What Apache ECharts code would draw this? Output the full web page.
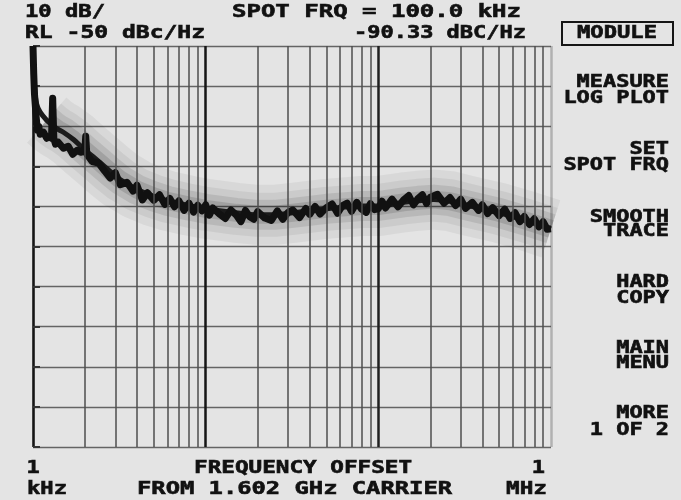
<!DOCTYPE html>
<html><head><meta charset="utf-8">
<script src="https://cdn.jsdelivr.net/npm/echarts@6/dist/echarts.min.js"></script>
<style>html,body{margin:0;padding:0;background:#e4e4e4}#c{width:681px;height:500px}</style>
</head><body><div id="c"></div>
<script>
// ---- data (frequency offset in kHz, phase noise in dBc/Hz) ----
const traceFreqKHz = [
  1.0,1.01,1.02,1.04,1.06,1.08,1.1,1.15,1.2,1.25,
  1.28,1.3,1.32,1.35,1.4,1.5,1.6,1.7,1.8,1.9,
  2.0,2.02,2.05,2.1,2.2,2.4,2.6,2.8,3.0,3.2,
  3.5,3.8,4.0,4.3,4.6,5.0,5.4,5.8,6.2,6.6,
  7.0,7.5,8.0,8.5,9.0,9.5,
  10,10.5,11,12,13,14,15,16,17,18,
  19,20,22,24,26,28,30,32,35,38,
  40,43,46,50,54,58,62,66,70,75,
  80,85,90,95,
  100,105,110,120,130,140,150,160,170,180,
  190,200,220,240,260,280,300,320,350,380,
  400,430,460,500,540,580,620,660,700,750,
  800,850,900,950,1000
];
const traceDb = [
  -50,-57,-62,-67,-71,-70,-72,-71.5,-73,-72.5,
  -73,-63,-73,-74.5,-74,-75.5,-75,-77,-76,-76.5,
  -75.5,-72.5,-77,-77,-78.8,-79.2,-81.2,-82.9,-81.6,-84.6,
  -84.0,-86.2,-84.7,-88.4,-86.6,-88.5,-87.1,-89.5,-88.0,-90.1,
  -88.6,-91.0,-89.2,-91.4,-89.7,-91.1,
  -89.6,-92.2,-90.4,-91.9,-93.0,-90.9,-92.1,-93.8,-91.0,-92.6,
  -93.2,-91.3,-92.9,-93.5,-91.1,-93.2,-91.5,-90.9,-92.8,-90.5,
  -92.0,-90.0,-91.9,-90.3,-89.4,-91.7,-89.8,-89.2,-91.2,-89.0,
  -90.7,-91.5,-89.3,-90.8,
  -90.6,-88.7,-90.4,-88.2,-90.1,-88.4,-87.3,-89.6,-88.0,-87.1,
  -89.3,-87.7,-87.0,-89.2,-87.8,-89.8,-88.2,-90.5,-89.0,-91.0,
  -89.6,-91.8,-90.3,-92.3,-90.7,-93.0,-91.6,-93.8,-92.5,-94.5,
  -93.1,-95.1,-93.8,-95.7,-95.6
];
const smoothFreqKHz = [1.0,1.02,1.05,1.1,1.2,1.3,1.4,1.5,1.7,2.0,2.4,2.8,3.2,4.0,5.0,6.0,8.0,10,15,20,25,32,50,80,100,140,170,210,260,330,500,720,1000];
const smoothDb      = [-50,-60,-64.5,-66.5,-68.5,-69.8,-70.8,-71.5,-73.2,-75.9,-78.8,-81.3,-83.3,-85.8,-87.5,-88.6,-89.8,-90.6,-91.6,-92.1,-92.1,-91.6,-90.6,-89.9,-89.9,-89.0,-88.6,-88.3,-88.7,-89.8,-91.6,-93.6,-95.6];
const gridFreqKHz = [2,3,4,5,6,7,8,9,20,30,40,50,60,70,80,90,200,300,400,500,600,700,800,900];
const xTickLabels = [['1','kHz'],['1','MHz']];
const xAxisTitle = ['FREQUENCY OFFSET','FROM 1.602 GHz CARRIER'];
const headerLines = ['10 dB/','RL -50 dBc/Hz','SPOT FRQ = 100.0 kHz','-90.33 dBC/Hz'];
const menuItems = [['MEASURE','LOG PLOT'],['SET','SPOT FRQ'],['SMOOTH','TRACE'],['HARD','COPY'],['MAIN','MENU'],['MORE','1 OF 2']];
const yMin = -150, yMax = -50, yStep = 10;

const tracePairs = traceFreqKHz.map((f,i)=>[f*1000, traceDb[i]]);
const smoothPairs = smoothFreqKHz.map((f,i)=>[f*1000, smoothDb[i]]);
const haloPairs = smoothPairs.slice(4);

const FS = 17, ADV = 0.602*FS;
function txt(s, x, y, align, w){
  const sx = w ? w/(s.length*ADV) : 13.2/ADV;
  return {type:'text', x:x, y:y, scaleX:sx, z:100, silent:true,
    style:{text:s, font:'bold '+FS+'px "DejaVu Sans Mono"', fill:'#111', align:align, verticalAlign:'middle',
      stroke:'#111', lineWidth:0.6}};
}
const menuY = [[83,99],[150,166],[218,232],[283,299],[349,364],[414,431]];
const graphics = [
  txt(headerLines[0], 25, 13, 'left', 80),
  txt(headerLines[1], 25, 34, 'left', 180),
  txt(headerLines[2], 521, 13, 'right', 289),
  txt(headerLines[3], 526, 34, 'right', 172),
  {type:'rect', shape:{x:562,y:22,width:111,height:23}, style:{fill:'none', stroke:'#151515', lineWidth:2}, z:100, silent:true},
  txt('MODULE', 617, 34, 'center', 80),
  txt(xTickLabels[0][0], 33, 469, 'center'),
  txt(xTickLabels[0][1], 27, 490, 'left', 40),
  txt(xTickLabels[1][0], 545, 469, 'right'),
  txt(xTickLabels[1][1], 547, 490, 'right', 41),
  txt(xAxisTitle[0], 194, 469, 'left', 218),
  txt(xAxisTitle[1], 137, 490, 'left', 315)
];
menuItems.forEach((m,i)=>{
  graphics.push(txt(m[0], 669, menuY[i][0], 'right'));
  graphics.push(txt(m[1], 669, menuY[i][1], 'right'));
});

function halo(w, a, z){
  return {type:'line', name:'halo'+w, data:haloPairs, showSymbol:false, silent:true, z:z,
    lineStyle:{width:w, color:'rgba(0,0,0,'+a+')', cap:'butt', join:'round'}};
}

const chart = echarts.init(document.getElementById('c'), null, {renderer:'canvas'});
chart.setOption({
  backgroundColor:'#e4e4e4',
  animation:false,
  grid:{left:33, right:130, top:46, bottom:53},
  xAxis:{type:'log', logBase:10, min:1000, max:1000000,
    axisLine:{show:false}, axisTick:{show:false}, axisLabel:{show:false},
    splitLine:{show:true, lineStyle:{color:['rgba(60,60,60,0.3)','#151515','#151515','#202020'], width:2.5}}},
  yAxis:{type:'value', min:yMin, max:yMax, interval:yStep,
    axisLine:{show:false}, axisLabel:{show:false},
    axisTick:{show:true, inside:true, length:7, lineStyle:{color:'#333', width:2}},
    splitLine:{show:true, lineStyle:{color:'#646464', width:1.3}}},
  series:[
    {type:'line', name:'grid', data:smoothPairs, showSymbol:false, silent:true, z:1,
      lineStyle:{opacity:0},
      markLine:{silent:true, symbol:['none','none'], label:{show:false}, animation:false,
        lineStyle:{color:'#4e4e4e', width:1.5, type:'solid'},
        data:gridFreqKHz.map(f=>({xAxis:f*1000}))}},
    halo(60, 0.05, 2),
    halo(44, 0.06, 2),
    halo(30, 0.09, 2),
    halo(18, 0.12, 2),
    {type:'line', name:'smooth', data:smoothPairs, showSymbol:false, silent:true, z:3, smooth:0.3,
      lineStyle:{width:5, color:'#1a1a1a'}},
    {type:'line', name:'trace', data:tracePairs, showSymbol:false, silent:true, z:4,
      lineStyle:{width:7, color:'#111', join:'round'}}
  ],
  graphic:graphics
});
</script></body></html>
